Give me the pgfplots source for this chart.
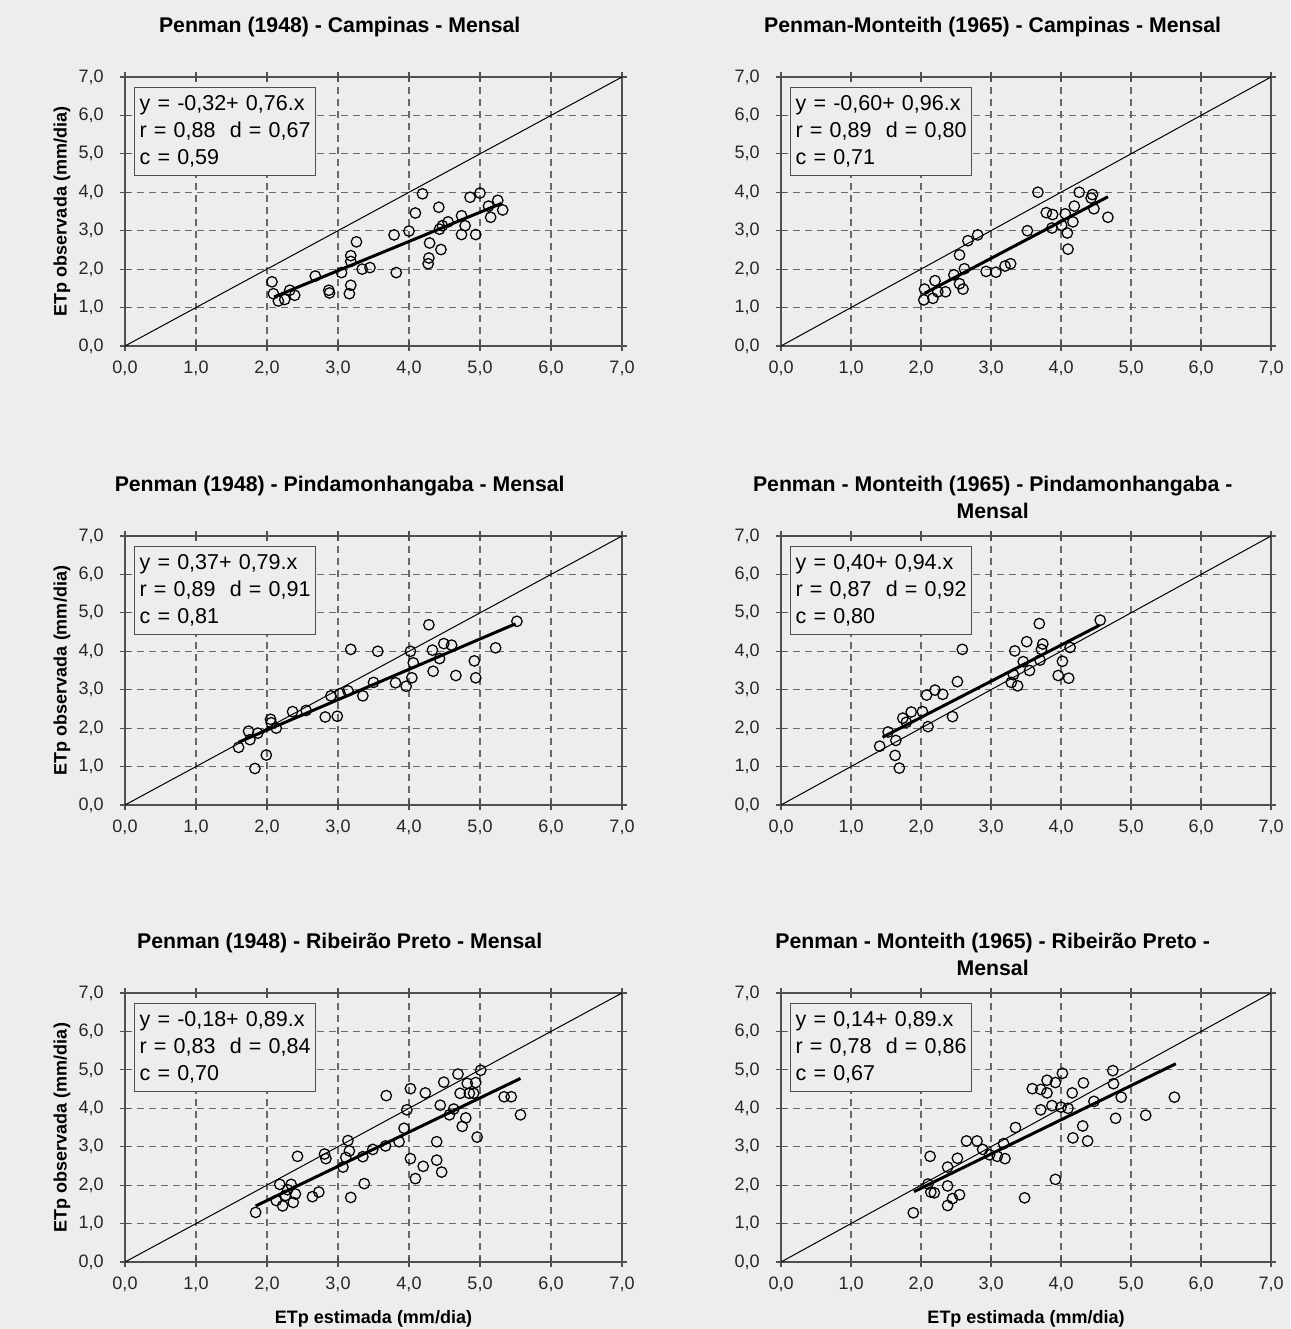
\documentclass[border=0pt]{standalone}
\usepackage{pgfplots}
\pgfplotsset{compat=1.18}
\usepackage{fontspec}
\setmainfont{Liberation Sans}
\definecolor{bg}{RGB}{237,237,237}
\definecolor{framec}{RGB}{80,80,80}
\definecolor{gridc}{RGB}{105,105,105}
\pgfplotsset{
  panel/.style={
    scale only axis, width=198.8pt, height=107.6pt,
    xmin=0, xmax=7, ymin=0, ymax=7,
    xtick={0,1,...,7}, ytick={0,1,...,7},
    grid=major,
    major grid style={gridc, dash pattern=on 2.6pt off 2.2pt, line width=0.5pt},
    axis line style={framec, line width=0.8pt},
    tick style={framec, line width=0.5pt},
    tick align=center, major tick length=4pt,
    axis background/.style={fill=bg},
    clip=false,
    /pgf/number format/fixed, /pgf/number format/zerofill,
    /pgf/number format/precision=1, /pgf/number format/use comma,
    /pgf/number format/assume math mode=true,
    ticklabel style={font=\fontsize{7.2}{8.5}\selectfont, text=black!85},
    xticklabel style={yshift=-0.5pt},
    yticklabel style={xshift=-3pt},
    title style={font=\bfseries\fontsize{8.5}{10.8}\selectfont, align=center, anchor=center, at={(axis description cs:0.432,1.13)}},
    ylabel style={font=\bfseries\fontsize{7.2}{9}\selectfont, anchor=center, at={(axis description cs:-0.127,0.5)}},
    xlabel style={font=\bfseries\fontsize{7.2}{9}\selectfont, anchor=center, at={(axis description cs:0.5,-0.21)}},
  },
  rightpanel/.style={width=196pt},
  twoline/.style={title style={at={(axis description cs:0.432,1.087)}}},
  diag/.style={black, line width=0.4pt},
  pts/.style={only marks, mark=o, mark size=2.1pt, mark options={black, line width=0.5pt}},
  reg/.style={black, line width=1.2pt},
}
\newcommand{\statbox}[3]{\node[draw=framec, fill=bg, line width=0.5pt, anchor=north west, inner sep=2pt, text width=68.4pt, minimum height=35.2pt, align=left, font=\fontsize{8.6}{10.8}\selectfont] at ([xshift=3.6pt,yshift=-4pt]axis description cs:0,1) {#1\\#2\\#3};}
\begin{document}
\begin{tikzpicture}
\fill[bg] (0,0) rectangle (516pt,531.6pt);
\useasboundingbox (0,0) rectangle (516pt,531.6pt);
% ---------- Panel 1
\begin{axis}[panel, at={(50pt,393.2pt)}, anchor=south west,
  title={Penman (1948) - Campinas - Mensal}, ylabel={ETp observada (mm/dia)}]
\addplot[diag] coordinates {(0,0) (7,7)};
\addplot[pts] table {
x y
2.07 1.67
2.09 1.36
2.16 1.17
2.25 1.21
2.32 1.45
2.39 1.32
2.68 1.82
2.87 1.45
2.88 1.38
3.05 1.91
3.18 2.35
3.18 2.20
3.18 1.58
3.16 1.36
3.26 2.71
3.34 2.00
3.45 2.04
3.79 2.89
3.82 1.91
4.00 2.99
4.09 3.46
4.19 3.96
4.29 2.68
4.28 2.29
4.27 2.14
4.42 3.61
4.45 2.51
4.47 3.13
4.55 3.23
4.74 3.39
4.74 2.90
4.79 3.13
4.86 3.87
5.00 3.98
4.94 2.90
5.12 3.64
5.15 3.35
5.25 3.79
5.32 3.54
4.43 3.04
};
\addplot[reg] coordinates {(2.1,1.276) (5.3,3.708)};
\statbox{y = -0,32+ 0,76.x}{r = 0,88\ \ d = 0,67}{c = 0,59}
\end{axis}
% ---------- Panel 2
\begin{axis}[panel, rightpanel, at={(312.4pt,393.2pt)}, anchor=south west,
  title={Penman-Monteith (1965) - Campinas - Mensal}]
\addplot[diag] coordinates {(0,0) (7,7)};
\addplot[pts] table {
x y
2.05 1.48
2.04 1.20
2.17 1.24
2.20 1.70
2.24 1.41
2.35 1.41
2.47 1.85
2.55 2.37
2.55 1.62
2.60 1.48
2.62 2.01
2.67 2.74
2.81 2.89
2.93 1.94
3.07 1.92
3.20 2.08
3.28 2.14
3.52 3.00
3.67 4.00
3.79 3.47
3.88 3.42
3.87 3.07
4.01 3.14
4.06 3.44
4.09 2.94
4.10 2.52
4.17 3.23
4.19 3.64
4.26 4.00
4.43 3.85
4.45 3.94
4.47 3.57
4.67 3.35
};
\addplot[reg] coordinates {(2.05,1.368) (4.67,3.883)};
\statbox{y = -0,60+ 0,96.x}{r = 0,89\ \ d = 0,80}{c = 0,71}
\end{axis}
% ---------- Panel 3
\begin{axis}[panel, at={(50pt,209.6pt)}, anchor=south west,
  title={Penman (1948) - Pindamonhangaba - Mensal}, ylabel={ETp observada (mm/dia)}]
\addplot[diag] coordinates {(0,0) (7,7)};
\addplot[pts] table {
x y
1.60 1.50
1.74 1.92
1.76 1.70
1.87 1.87
1.83 0.95
1.99 1.30
2.05 2.23
2.06 2.14
2.13 2.00
2.36 2.43
2.55 2.46
2.82 2.29
2.99 2.31
2.90 2.84
3.03 2.90
3.14 2.97
3.18 4.05
3.35 2.84
3.50 3.19
3.56 4.00
3.81 3.18
3.96 3.09
4.04 3.31
4.02 4.00
4.06 3.70
4.28 4.69
4.34 3.48
4.33 4.03
4.43 3.81
4.49 4.20
4.60 4.16
4.66 3.37
4.92 3.75
4.94 3.31
5.22 4.09
5.52 4.78
};
\addplot[reg] coordinates {(1.6,1.634) (5.5,4.715)};
\statbox{y = 0,37+ 0,79.x}{r = 0,89\ \ d = 0,91}{c = 0,81}
\end{axis}
% ---------- Panel 4
\begin{axis}[panel, rightpanel, twoline, at={(312.4pt,209.6pt)}, anchor=south west,
  title={Penman - Monteith (1965) - Pindamonhangaba -\\Mensal}]
\addplot[diag] coordinates {(0,0) (7,7)};
\addplot[pts] table {
x y
1.41 1.53
1.53 1.90
1.64 1.68
1.63 1.29
1.69 0.96
1.74 2.26
1.79 2.15
1.86 2.42
2.02 2.43
2.08 2.86
2.10 2.04
2.20 2.99
2.31 2.88
2.45 2.30
2.52 3.21
2.59 4.05
3.29 3.19
3.32 3.39
3.34 4.01
3.38 3.10
3.46 3.73
3.51 4.25
3.55 3.50
3.69 4.72
3.74 4.19
3.72 4.05
3.70 3.77
3.96 3.37
4.02 3.74
4.11 3.30
4.13 4.10
4.56 4.81
};
\addplot[reg] coordinates {(1.45,1.763) (4.55,4.677)};
\statbox{y = 0,40+ 0,94.x}{r = 0,87\ \ d = 0,92}{c = 0,80}
\end{axis}
% ---------- Panel 5
\begin{axis}[panel, at={(50pt,26.8pt)}, anchor=south west,
  title={Penman (1948) - Ribeirão Preto - Mensal}, ylabel={ETp observada (mm/dia)},
  xlabel={ETp estimada (mm/dia)}]
\addplot[diag] coordinates {(0,0) (7,7)};
\addplot[pts] table {
x y
1.84 1.29
2.13 1.60
2.18 2.02
2.22 1.46
2.26 1.73
2.29 1.88
2.34 2.02
2.37 1.55
2.40 1.77
2.43 2.75
2.64 1.70
2.73 1.82
2.81 2.81
2.83 2.69
3.07 2.47
3.14 3.16
3.16 2.89
3.11 2.72
3.18 1.68
3.37 2.04
3.35 2.74
3.49 2.93
3.67 3.02
3.68 4.33
3.86 3.13
3.93 3.48
3.97 3.96
4.02 4.51
4.02 2.69
4.09 2.17
4.20 2.49
4.23 4.40
4.39 3.13
4.39 2.65
4.46 2.34
4.44 4.08
4.49 4.68
4.57 3.83
4.63 3.98
4.69 4.89
4.72 4.39
4.75 3.53
4.80 3.75
4.82 4.65
4.85 4.39
4.91 4.39
4.94 4.67
4.96 3.25
5.01 4.99
5.34 4.30
5.44 4.30
5.57 3.83
};
\addplot[reg] coordinates {(1.84,1.458) (5.57,4.777)};
\statbox{y = -0,18+ 0,89.x}{r = 0,83\ \ d = 0,84}{c = 0,70}
\end{axis}
% ---------- Panel 6
\begin{axis}[panel, rightpanel, twoline, at={(312.4pt,26.8pt)}, anchor=south west,
  title={Penman - Monteith (1965) - Ribeirão Preto -\\Mensal},
  xlabel={ETp estimada (mm/dia)}]
\addplot[diag] coordinates {(0,0) (7,7)};
\addplot[pts] table {
x y
1.89 1.28
2.10 2.03
2.13 2.75
2.14 1.82
2.19 1.80
2.38 1.47
2.38 1.98
2.38 2.47
2.45 1.65
2.52 2.70
2.55 1.75
2.65 3.15
2.80 3.15
2.88 2.93
2.98 2.79
3.09 2.75
3.18 3.08
3.20 2.69
3.35 3.50
3.48 1.67
3.59 4.51
3.71 3.96
3.71 4.49
3.80 4.40
3.80 4.73
3.87 4.07
3.92 2.15
3.92 4.67
4.00 4.03
4.02 4.91
4.10 4.00
4.16 4.40
4.17 3.23
4.31 3.54
4.32 4.66
4.38 3.15
4.47 4.18
4.74 4.98
4.75 4.64
4.78 3.74
4.86 4.29
5.21 3.82
5.62 4.29
};
\addplot[reg] coordinates {(1.9,1.831) (5.64,5.160)};
\statbox{y = 0,14+ 0,89.x}{r = 0,78\ \ d = 0,86}{c = 0,67}
\end{axis}
\end{tikzpicture}
\end{document}
